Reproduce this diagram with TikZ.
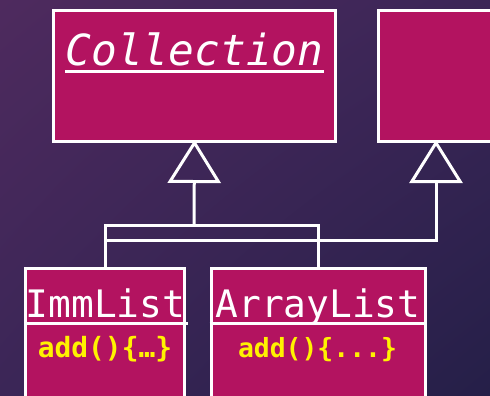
\documentclass[tikz,border=0pt]{standalone}
\usepackage{fontspec}
\setmonofont{DejaVu Sans Mono}
\usetikzlibrary{positioning,arrows.meta,shadings}
\definecolor{clsfill}{HTML}{B31360}
\definecolor{bgA}{HTML}{4E2A5E}
\definecolor{bgB}{HTML}{3B2657}
\definecolor{bgC}{HTML}{251F48}
\tikzset{cls/.style={draw=white,line width=3bp,fill=clsfill,inner sep=0pt},
  wire/.style={draw=white,line width=3bp},
  inh/.style={wire,shorten >=-2.5bp,-{Triangle[open,length=43bp,width=53bp]}},
  ttl/.style={text=white,inner sep=0pt,anchor=base,font=\ttfamily\fontsize{38}{38}\selectfont},
  mth/.style={text=yellow,inner sep=0pt,anchor=base}}
\begin{document}
\begin{tikzpicture}[x=1bp,y=-1bp]
\useasboundingbox(0,0)rectangle(490,395);
\clip(0,0)rectangle(490,395);
\shade[upper left=bgA,upper right=bgB,lower left=bgB,lower right=bgC](0,0)rectangle(490,395);
% classes
\node[cls,minimum width=281bp,minimum height=131bp](coll)at(194.5,75.5){};
\node[cls,minimum width=116bp,minimum height=131bp](oth)at(436,75.5){};
\node[cls,minimum width=158bp,minimum height=142bp](imm)at(105,339){};
\node[cls,minimum width=214bp,minimum height=142bp](arr)at(318,339){};
\node[ttl,font=\ttfamily\itshape\fontsize{43}{43}\selectfont](collT)at(194.5,65){Collection};
\node[ttl](immT)at(105.5,317){ImmList};
\node[ttl](arrT)at(318,317){ArrayList};
\node[mth,font=\ttfamily\bfseries\fontsize{28}{28}\selectfont](immM)at(105,357){add()\{…\}};
\node[mth,font=\ttfamily\bfseries\fontsize{26.5}{26.5}\selectfont](arrM)at(317.5,357){add()\{...\}};
% underlines / compartments
\draw[wire]([yshift=-6bp]collT.base west)--([yshift=-6bp]collT.base east);
\draw[wire](24,323)--(188,323);
\draw[wire](arr.west|-0,323)--(arr.east|-0,323);
% generalisations
\coordinate(j1)at(194,225);\coordinate(j2)at(436,240);
\draw[wire](imm.north)|-(j1)-|(arr.north);
\draw[inh](j1)--(coll.south);
\draw[inh](imm.north|-j2)--(j2)--(oth.south);
\end{tikzpicture}
\end{document}
